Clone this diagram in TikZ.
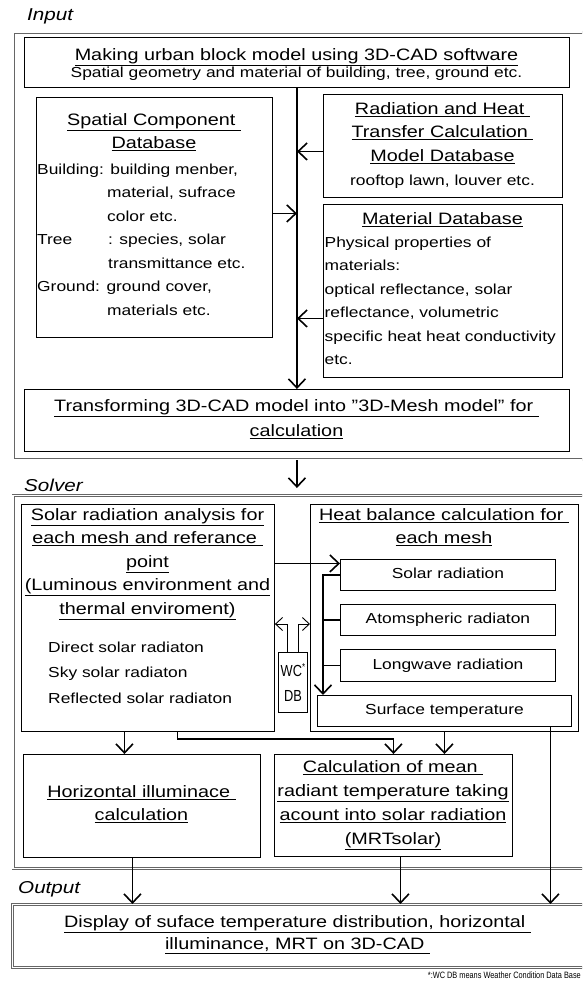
\documentclass[tikz,border=0pt]{standalone}
\usepackage{fontspec}
\setmainfont[FakeStretch=1.2]{Liberation Sans}
\newfontfamily\narrowfont[FakeStretch=0.8]{Liberation Sans}
\usetikzlibrary{arrows.meta}
\newcommand\hd{\fontsize{16.5}{23.5}\selectfont}
\newcommand\bd{\fontsize{14.5}{23.5}\selectfont}
\newcommand\ul[1]{\underline{#1}}
\begin{document}
\begin{tikzpicture}[x=1pt,y=-1pt,
  box/.style={draw, line width=0.9pt, inner sep=0pt, anchor=north west},
  sub/.style={box, font=\bd, text height=10.5pt, text depth=3pt},
  frame/.style={draw=black!60, double, double distance=1.6pt, line width=0.7pt, inner sep=0pt, anchor=north west},
  txt/.style={inner sep=0pt, anchor=north, align=center, font=\hd},
  txl/.style={inner sep=0pt, anchor=north west, align=left, font=\bd},
  arr/.style={line width=1.8pt, -{Straight Barb[length=9pt,width=17pt,line width=1.6pt]}},
  thk/.style={line width=1.8pt},
  tarr/.style={line width=0.9pt, -{Straight Barb[length=7pt,width=13pt]}},
  lbl/.style={inner sep=0pt, anchor=base west, font=\fontsize{17.2}{20}\selectfont\itshape}
]
\useasboundingbox (0,0) rectangle (582,984);
\clip (0,0) rectangle (582,984);

% frames
\node[frame, minimum width=574, minimum height=427.8] (inputframe) at (12.8,31.7) {};
\node[frame, minimum width=574, minimum height=373] (solverframe) at (12.8,495) {};
\node[frame, minimum width=575, minimum height=63] (outputframe) at (12,904) {};

\node[lbl] (inputlbl) at (27,21) {Input};
\node[lbl] (solverlbl) at (24,491) {Solver};
\node[lbl] (outputlbl) at (18,893) {Output};

% input boxes
\node[box, minimum width=545, minimum height=50] (top) at (24,37) {};
\node[box, minimum width=236, minimum height=240] (spatial) at (36,97) {};
\node[box, minimum width=239, minimum height=103] (rad) at (323,94) {};
\node[box, minimum width=239, minimum height=173] (mat) at (323,204) {};
\node[box, minimum width=545, minimum height=62] (trans) at (24,389) {};

\node[txt] (topT1) at (296.5,43.55) {\strut\ul{Making urban block model using 3D-CAD software}};
\node[txt, font=\bd] (topT2) at (296.5,60.55) {\strut Spatial geometry and material of building, tree, ground etc.};
\node[txt] (spatT) at (154,108.55) {\strut\ul{Spatial Component\ }\\\ul{Database}};
\node[txl] (spatB) at (37,157.55) {\strut Building: building menber,\\
\hspace*{70pt}material, sufrace\\
\hspace*{70pt}color etc.\\
\makebox[71pt][l]{Tree}: species, solar\\
\hspace*{71pt}transmittance etc.\\
Ground: ground cover,\\
\hspace*{70pt}materials etc.};
\node[txt] (radT) at (442.5,97.55) {\strut\ul{Radiation and Heat\ }\\\ul{Transfer Calculation\ }\\\ul{Model Database}};
\node[txt, font=\bd] (radB) at (442.5,168.55) {\strut rooftop lawn, louver etc.};
\node[txt] (matT) at (442.5,207.55) {\strut\ul{Material Database}};
\node[txl] (matB) at (324.5,230.55) {\strut Physical properties of\\materials:\\optical reflectance, solar\\reflectance, volumetric\\specific heat heat conductivity\\etc.};
\node[txt] (transT) at (296.5,394.55) {\strut\ul{Transforming 3D-CAD model into "3D-Mesh model" for\ }\\[1.5pt]\ul{calculation}};

% solver boxes
\node[box, minimum width=253, minimum height=227] (solar) at (21,504) {};
\node[box, minimum width=268, minimum height=227] (heat) at (310,504) {};
\node[sub, minimum width=215, minimum height=31] (solrad) at (340,559) {Solar radiation};
\node[sub, minimum width=215, minimum height=31] (atm) at (340,604) {Atomspheric radiaton};
\node[sub, minimum width=215, minimum height=32] (long) at (340,649) {Longwave radiation};
\node[sub, minimum width=254, minimum height=31] (surf) at (317,695) {Surface temperature};
\node[box, minimum width=29, minimum height=60, align=center, font=\narrowfont\fontsize{16}{25}\selectfont] (wc) at (278,652) {WC\raisebox{6pt}{\fontsize{10}{10}\selectfont *}\\DB};
\node[box, minimum width=237, minimum height=103] (horiz) at (23,754) {};
\node[box, minimum width=238, minimum height=102] (calc) at (274,754) {};

\node[txt] (solarT) at (147.5,503.55) {\strut\ul{Solar radiation analysis for}\\\ul{each mesh and referance\ }\\\ul{point}\\\ul{(Luminous environment and}\\\ul{thermal enviroment)}};
\node[txl] (solarB) at (48,635.55) {\strut Direct solar radiaton\\[2pt]Sky solar radiaton\\[2pt]Reflected solar radiaton};
\node[txt] (heatT) at (444,503.55) {\strut\ul{Heat balance calculation for\ }\\\ul{each mesh}};
\node[txt] (horizT) at (141.5,780.55) {\strut\ul{Horizontal illuminace\ }\\\ul{calculation}};
\node[txt] (calcT) at (393,755.55) {\strut\ul{Calculation of mean\ }\\[0.5pt]\ul{radiant temperature taking}\\[0.5pt]\ul{acount into solar radiation}\\[0.5pt]\ul{(MRTsolar)}};
\node[txt] (outT) at (297.5,910.55) {\strut\ul{Display of suface temperature distribution, horizontal\ }\\[-1.5pt]\ul{illuminance, MRT on 3D-CAD\ }};

\node[inner sep=0pt, anchor=base east, font=\narrowfont\fontsize{9.2}{10}\selectfont] (note) at (581,978) {*:WC DB means Weather Condition Data Base};

% input connectors
\draw[arr] (top.south) -- (trans.north);
\coordinate (spA) at ([yshift=4pt]spatial.east);
\draw[arr] (spA) -- (spA -| top.south);
\coordinate (raA) at ([yshift=-5.5pt]rad.west);
\draw[arr] (raA) -- (raA -| top.south);
\coordinate (maA) at ([yshift=-27.5pt]mat.west);
\draw[arr] (maA) -- (maA -| top.south);
\draw[arr, shorten >=7pt] (inputframe.south -| trans.south) -- (solverframe.north -| trans.south);

% solver connectors
\coordinate (saA) at ([yshift=11.5pt]solrad.west);
\draw[arr] (saA -| solar.east) -- (saA);
\coordinate (hs) at ([xshift=-17pt]solrad.west);
\draw[arr] (solrad.west) -- (hs) -- (hs |- surf.north);
\draw[thk] (atm.west) -- (atm.west -| hs);
\draw[thk] (long.west) -- (long.west -| hs);
\coordinate (wy) at ([yshift=28pt]wc.north);
\draw[tarr] ([xshift=-5.5pt]wc.north) |- (wy -| solar.east);
\draw[tarr] ([xshift=5.5pt]wc.north) |- (wy -| heat.west);
\coordinate (hzA) at ([xshift=-17.5pt]horiz.north);
\draw[arr] (hzA |- solar.south) -- (hzA);
\draw[arr] ([xshift=29.5pt]solar.south) -- ++(0,7) -| (calc.north);
\draw[arr] (heat.south) -- (heat.south |- calc.north);

% output connectors
\coordinate (stA) at ([xshift=106pt]surf.south);
\draw[arr] (stA) -- (stA |- outputframe.north);
\coordinate (hzB) at ([xshift=-9.5pt]horiz.south);
\draw[arr] (hzB) -- (hzB |- outputframe.north);
\coordinate (caB) at ([xshift=7pt]calc.south);
\draw[arr] (caB) -- (caB |- outputframe.north);
\end{tikzpicture}
\end{document}
